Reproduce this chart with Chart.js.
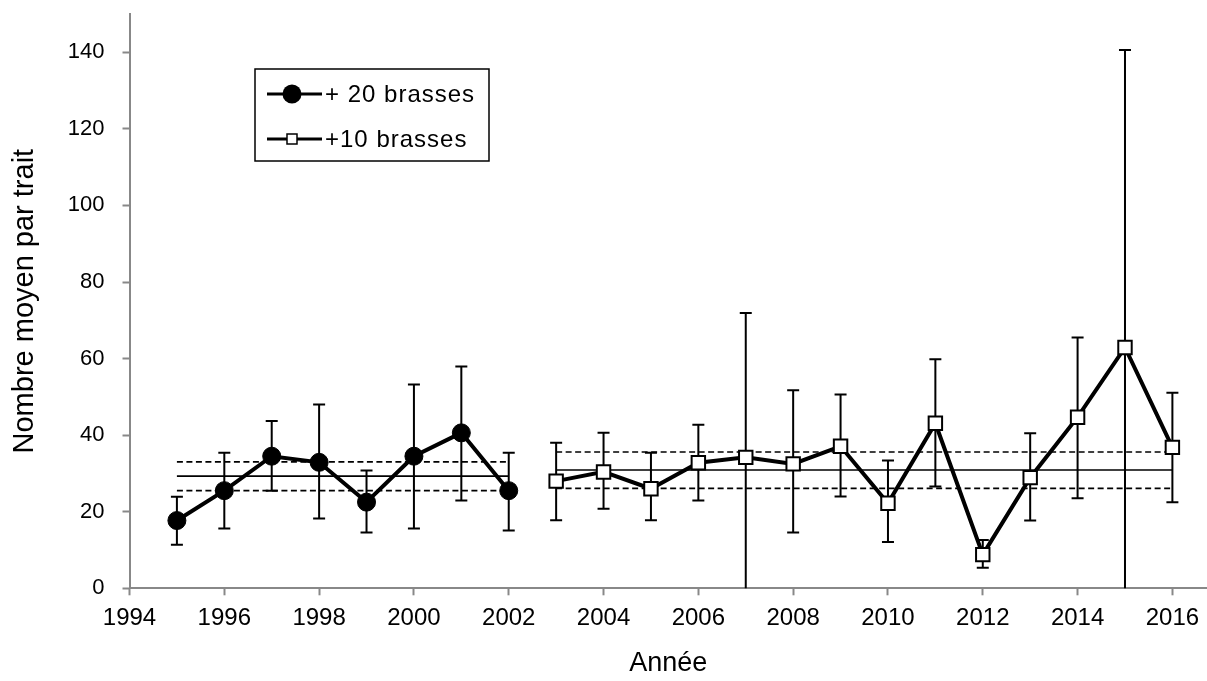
<!DOCTYPE html>
<html lang="fr">
<head>
<meta charset="utf-8">
<title>Nombre moyen par trait</title>
<script src="https://cdn.jsdelivr.net/npm/chart.js"></script>
<style>
  html, body { margin: 0; padding: 0; background: #fff; }
  #wrap { width: 1207px; height: 681px; }
</style>
</head>
<body>
<div id="wrap"><canvas id="chart" width="1207" height="681"></canvas></div>
<script>
// + 20 brasses (1995-2002)
const years20 = [1995, 1996, 1997, 1998, 1999, 2000, 2001, 2002];
const mean20 = [17.7, 25.5, 34.5, 32.9, 22.5, 34.5, 40.6, 25.5];
const low20 = [11.4, 15.6, 25.5, 18.2, 14.6, 15.6, 22.9, 15.1];
const high20 = [23.9, 35.4, 43.7, 48.0, 30.8, 53.2, 57.9, 35.4];

// +10 brasses (2003-2016)
const years10 = [2003, 2004, 2005, 2006, 2007, 2008, 2009, 2010, 2011, 2012, 2013, 2014, 2015, 2016];
const mean10 = [28.0, 30.4, 26.0, 32.8, 34.2, 32.5, 37.1, 22.2, 43.1, 8.8, 28.9, 44.7, 62.9, 36.8];
const low10 = [17.8, 20.8, 17.8, 22.9, 0, 14.6, 24.0, 12.1, 26.6, 5.4, 17.7, 23.5, 0, 22.5];
const high10 = [38.0, 40.6, 35.4, 42.7, 71.9, 51.7, 50.6, 33.4, 59.8, 12.6, 40.5, 65.5, 140.6, 51.1];

// moyenne de la période et intervalle (bas, moyenne, haut)
const period20 = [1995, 2002];
const level20 = [25.5, 29.3, 33.0];
const period10 = [2003, 2016];
const level10 = [26.1, 30.9, 35.6];

const xTicks = [1994, 1996, 1998, 2000, 2002, 2004, 2006, 2008, 2010, 2012, 2014, 2016];
const yTicks = [0, 20, 40, 60, 80, 100, 120, 140];

const FONT = '"Liberation Sans", Arial, sans-serif';
const AXIS = '#888888';

const pts = (xs, ys) => xs.map((x, i) => ({ x: x, y: ys[i] }));

function hline(period, y, dashed) {
  return {
    data: [{ x: period[0], y: y }, { x: period[1], y: y }],
    borderColor: '#000',
    borderWidth: 1.7,
    borderDash: dashed ? [6, 3.5] : [],
    pointRadius: 0,
    order: 5
  };
}

// pas de marge automatique pour les étiquettes extrêmes
function noPadding(s) {
  s.paddingLeft = 0;
  s.paddingRight = 0;
  s.paddingTop = 0;
  s.paddingBottom = 0;
}

// barres d'erreur (min / max) sous les marqueurs
const errorBars = {
  id: 'errorBars',
  beforeDatasetsDraw(chart) {
    const { ctx, scales: { x, y } } = chart;
    const cap = 6;
    ctx.save();
    ctx.strokeStyle = '#000';
    ctx.lineWidth = 2;
    [[years20, low20, high20], [years10, low10, high10]].forEach(([xs, lo, hi]) => {
      xs.forEach((yr, i) => {
        const px = x.getPixelForValue(yr);
        const top = y.getPixelForValue(hi[i]);
        const bot = y.getPixelForValue(lo[i]);
        ctx.beginPath();
        ctx.moveTo(px, top);
        ctx.lineTo(px, bot);
        ctx.moveTo(px - cap, top);
        ctx.lineTo(px + cap, top);
        // borne basse coupée à 0 : pas de chapeau
        if (lo[i] > 0) {
          ctx.moveTo(px - cap, bot);
          ctx.lineTo(px + cap, bot);
        }
        ctx.stroke();
      });
    });
    ctx.restore();
  }
};

// légende encadrée dans la zone du graphique
const boxLegend = {
  id: 'boxLegend',
  afterDraw(chart) {
    const ctx = chart.ctx;
    ctx.save();
    ctx.fillStyle = '#fff';
    ctx.fillRect(255, 69, 234, 92);
    ctx.strokeStyle = '#000';
    ctx.lineWidth = 1.5;
    ctx.strokeRect(255, 69, 234, 92);

    ctx.lineWidth = 3;
    ctx.beginPath();
    ctx.moveTo(267, 94); ctx.lineTo(322, 94);
    ctx.moveTo(267, 139); ctx.lineTo(322, 139);
    ctx.stroke();

    ctx.fillStyle = '#000';
    ctx.beginPath();
    ctx.arc(292, 94, 9.5, 0, Math.PI * 2);
    ctx.fill();

    ctx.fillStyle = '#fff';
    ctx.fillRect(287, 134, 10, 10);
    ctx.lineWidth = 1.5;
    ctx.strokeRect(287, 134, 10, 10);

    ctx.fillStyle = '#000';
    ctx.font = '24px ' + FONT;
    ctx.letterSpacing = '1px';
    ctx.textBaseline = 'middle';
    ctx.fillText('+ 20 brasses', 325, 95);
    ctx.fillText('+10 brasses', 325, 140);
    ctx.restore();
  }
};

new Chart(document.getElementById('chart'), {
  type: 'line',
  data: {
    datasets: [
      {
        label: '+ 20 brasses',
        data: pts(years20, mean20),
        borderColor: '#000',
        borderWidth: 4,
        pointStyle: 'circle',
        pointRadius: 9,
        pointBackgroundColor: '#000',
        pointBorderColor: '#000',
        pointBorderWidth: 1,
        order: 1
      },
      {
        label: '+10 brasses',
        data: pts(years10, mean10),
        borderColor: '#000',
        borderWidth: 4,
        pointStyle: 'rect',
        pointRadius: 9.5,
        pointBackgroundColor: '#fff',
        pointBorderColor: '#000',
        pointBorderWidth: 2,
        order: 1
      },
      hline(period20, level20[1], false),
      hline(period20, level20[0], true),
      hline(period20, level20[2], true),
      hline(period10, level10[1], false),
      hline(period10, level10[0], true),
      hline(period10, level10[2], true)
    ]
  },
  options: {
    responsive: false,
    animation: false,
    layout: { autoPadding: false, padding: { top: 14, right: 0, bottom: 0, left: 0 } },
    plugins: { legend: { display: false }, tooltip: { enabled: false } },
    scales: {
      x: {
        type: 'linear',
        min: 1994,
        max: 2016.73,
        afterBuildTicks: s => { s.ticks = xTicks.map(v => ({ value: v })); },
        afterFit: s => { s.height = 92.7; noPadding(s); },
        grid: { drawOnChartArea: false, drawTicks: true, tickLength: 7, tickWidth: 2, tickColor: AXIS },
        border: { color: AXIS, width: 2 },
        ticks: { color: '#000', font: { family: FONT, size: 24 }, padding: 9, maxRotation: 0, callback: v => String(v) },
        title: { display: true, text: 'Année', color: '#000', font: { family: FONT, size: 27, lineHeight: 1 }, padding: { top: 0, bottom: 4 } }
      },
      y: {
        min: 0,
        max: 150,
        afterBuildTicks: s => { s.ticks = yTicks.map(v => ({ value: v })); },
        afterFit: s => { s.width = 129.5; noPadding(s); },
        grid: { drawOnChartArea: false, drawTicks: true, tickLength: 7, tickWidth: 2, tickColor: AXIS },
        border: { color: AXIS, width: 2 },
        ticks: { color: '#000', font: { family: FONT, size: 22 }, padding: 18, callback: v => String(v) },
        title: { display: true, text: 'Nombre moyen par trait', color: '#000', font: { family: FONT, size: 29, lineHeight: 1 }, padding: { top: 10, bottom: 0 } }
      }
    }
  },
  plugins: [errorBars, boxLegend]
});
</script>
</body>
</html>
